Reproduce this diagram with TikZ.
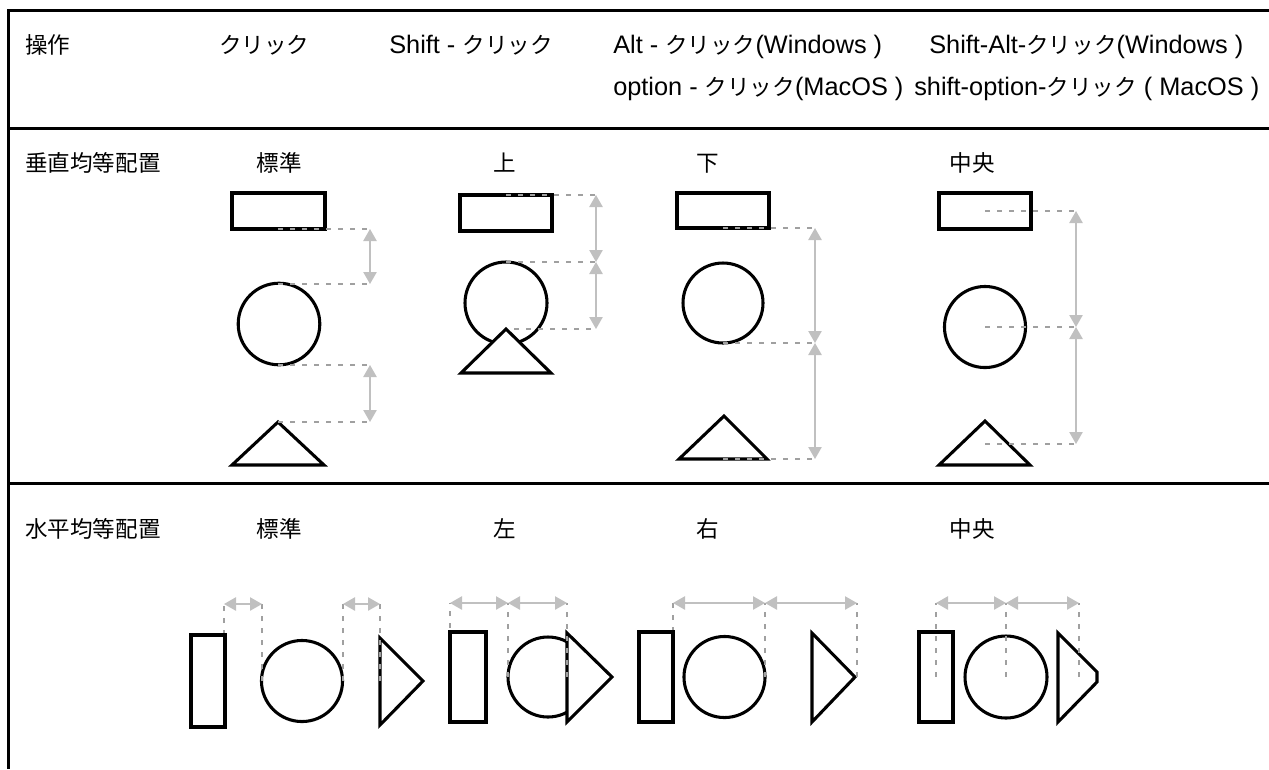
\documentclass[tikz,border=0pt]{standalone}
\usepackage{fontspec}
\setmainfont{Liberation Sans}
\newfontfamily\jp[Scale=0.89]{Noto Sans CJK JP}
\usetikzlibrary{arrows.meta}
\definecolor{guidegray}{HTML}{A0A0A0}
\definecolor{dimgray}{HTML}{C0C0C0}
\begin{document}
\begin{tikzpicture}[x=0.75pt,y=-0.75pt,
  frame/.style={line width=2.25pt,black},
  shp/.style={line width=2.3pt,black},
  guide/.style={draw=guidegray,line width=2.2pt,dash pattern=on 3.75pt off 5.25pt},
  dim/.style={draw=dimgray,line width=1.1pt,{Triangle[length=9pt,width=10pt]}-{Triangle[length=9pt,width=10pt]}},
  lbl/.style={anchor=base west,inner sep=0pt,font=\fontsize{19}{22}\selectfont},
  clbl/.style={anchor=base,inner sep=0pt,font=\fontsize{19}{22}\selectfont\jp}]
\useasboundingbox (0,0) rectangle (1269,769);
% frame
\draw[frame] (1269,10) -- (8,10) -- (8,769);
\draw[frame] (8,128) -- (1269,128);
\draw[frame] (8,483) -- (1269,483);
% header texts
\node[lbl] (t0) at (25,53) {\jp 操作};
\node[lbl] (t1) at (219,53) {\jp クリック};
\node[lbl] (t2) at (389,53) {Shift - {\jp クリック}};
\node[lbl] (t3) at (613,53) {Alt - {\jp クリック}(Windows )};
\node[lbl] (t4) at (613,95) {option - {\jp クリック}(MacOS )};
\node[lbl] (t5) at (929,53) {Shift-Alt-{\jp クリック}(Windows )};
\node[lbl] (t6) at (914,95) {shift-option-{\jp クリック} ( MacOS )};
% row labels
\node[lbl] (r1) at (25,171) {\jp 垂直均等配置};
\node[lbl] (r2) at (25,537) {\jp 水平均等配置};
\node[clbl] (v1) at (279,171) {標準};
\node[clbl] (v2) at (505,171) {上};
\node[clbl] (v3) at (708,171) {下};
\node[clbl] (v4) at (972,171) {中央};
\node[clbl] (h1) at (279,537) {標準};
\node[clbl] (h2) at (505,537) {左};
\node[clbl] (h3) at (708,537) {右};
\node[clbl] (h4) at (972,537) {中央};

% ===== vertical: 標準 =====
\draw[shp] (232,193) rectangle (325,229);
\draw[shp] (279,324) circle[radius=30.6pt];
\draw[shp] (232,465) -- (278,422) -- (324,465) -- cycle;
\coordinate (a1) at (370,229); \coordinate (a2) at (370,284);
\coordinate (a3) at (370,365); \coordinate (a4) at (370,422);
\draw[guide] (278,229) -- (a1);
\draw[guide] (278,284) -- (a2);
\draw[guide] (278,365) -- (a3);
\draw[guide] (278,422) -- (a4);
\draw[dim] (a1) -- (a2);
\draw[dim] (a3) -- (a4);

% ===== vertical: 上 =====
\draw[shp] (460,195) rectangle (552,231);
\draw[shp] (506,303) circle[radius=30.75pt];
\draw[shp,fill=white] (461,373) -- (506,329) -- (551,373) -- cycle;
\coordinate (b1) at (596,195); \coordinate (b2) at (596,262); \coordinate (b3) at (596,329);
\draw[guide] (506,195) -- (b1);
\draw[guide] (506,262) -- (b2);
\draw[guide] (514,329) -- (b3);
\draw[dim] (b1) -- (b2);
\draw[dim] (b2) -- (b3);

% ===== vertical: 下 =====
\draw[shp] (677,193) rectangle (769,228);
\draw[shp] (723,303) circle[radius=30pt];
\draw[shp] (679,459) -- (724,416) -- (767,459) -- cycle;
\coordinate (c1) at (815,228); \coordinate (c2) at (815,343); \coordinate (c3) at (815,459);
\draw[guide] (723,228) -- (c1);
\draw[guide] (723,343) -- (c2);
\draw[guide] (723,459) -- (c3);
\draw[dim] (c1) -- (c2);
\draw[dim] (c2) -- (c3);

% ===== vertical: 中央 =====
\draw[shp] (939,193) rectangle (1031,229);
\draw[shp] (985,327) circle[radius=30.4pt];
\draw[shp] (939,465) -- (985,421) -- (1030,465) -- cycle;
\coordinate (d1) at (1076,211); \coordinate (d2) at (1076,327); \coordinate (d3) at (1076,444);
\draw[guide] (985,211) -- (d1);
\draw[guide] (985,327) -- (d2);
\draw[guide] (985,444) -- (d3);
\draw[dim] (d1) -- (d2);
\draw[dim] (d2) -- (d3);

% ===== horizontal: 標準 =====
\draw[guide] (224,635) -- (224,604);
\draw[shp] (191,635) rectangle (225,727);
\draw[shp] (302,681) circle[radius=30.4pt];
\draw[shp] (380,638) -- (423,681) -- (380,725) -- cycle;
\coordinate (e1) at (224,604); \coordinate (e2) at (262,604);
\coordinate (e3) at (343,604); \coordinate (e4) at (380,604);
\draw[guide] (262,681) -- (e2);
\draw[guide] (343,681) -- (e3);
\draw[guide] (380,681) -- (e4);
\draw[dim] (e1) -- (e2);
\draw[dim] (e3) -- (e4);

% ===== horizontal: 左 =====
\draw[shp] (450,632) rectangle (486,722);
\draw[shp] (548,677) circle[radius=30pt];
\draw[shp,fill=white] (567,633) -- (612,677) -- (567,722) -- cycle;
\coordinate (f1) at (450,603); \coordinate (f2) at (508,603); \coordinate (f3) at (567,603);
\draw[guide] (450,628) -- (f1);
\draw[guide] (508,677) -- (f2);
\draw[guide] (567,677) -- (f3);
\draw[dim] (f1) -- (f2);
\draw[dim] (f2) -- (f3);

% ===== horizontal: 右 =====
\draw[guide] (673,632) -- (673,603);
\draw[shp] (639,632) rectangle (673,722);
\draw[shp] (724.5,677) circle[radius=30.4pt];
\draw[shp] (812,633) -- (855,677) -- (812,722) -- cycle;
\coordinate (g1) at (673,603); \coordinate (g2) at (765,603); \coordinate (g3) at (857,603);
\draw[guide] (765,677) -- (g2);
\draw[guide] (857,677) -- (g3);
\draw[dim] (g1) -- (g2);
\draw[dim] (g2) -- (g3);

% ===== horizontal: 中央 =====
\draw[shp] (919,632) rectangle (953,722);
\draw[shp] (1006,677) circle[radius=30.75pt];
\draw[shp] (1058,633) -- (1097,672) -- (1097,682) -- (1058,722) -- cycle;
\coordinate (k1) at (936,603); \coordinate (k2) at (1006,603); \coordinate (k3) at (1079,603);
\draw[guide] (936,677) -- (k1);
\draw[guide] (1006,677) -- (k2);
\draw[guide] (1079,677) -- (k3);
\draw[dim] (k1) -- (k2);
\draw[dim] (k2) -- (k3);
\end{tikzpicture}
\end{document}
